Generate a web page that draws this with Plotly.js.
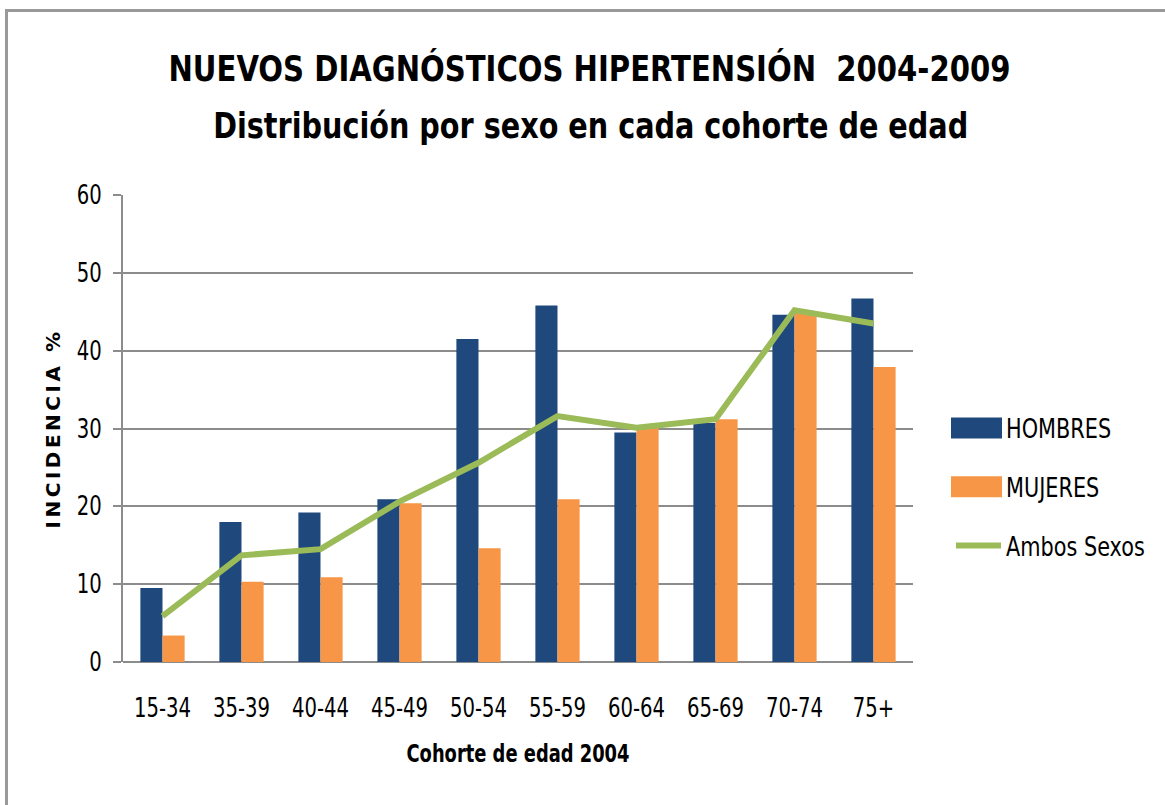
<!DOCTYPE html>
<html>
<head>
<meta charset="utf-8">
<script src="https://cdn.plot.ly/plotly-3.0.1.min.js"></script>
<style>
  html, body { margin: 0; padding: 0; background: #fff; }
  #wrap { position: relative; width: 1165px; height: 805px; overflow: hidden; background: #fff; }
  #frame { position: absolute; left: 5px; top: 9px; width: 1200px; height: 900px; border: 3px solid #999; box-sizing: border-box; pointer-events: none; }
  #chart { position: absolute; left: 0; top: 0; width: 1165px; height: 805px; }
  .ytitle { letter-spacing: 3.5px; }
</style>
</head>
<body>
<div id="wrap">
  <div id="chart"></div>
  <div id="frame"></div>
</div>
<script>
const categories = ["15-34", "35-39", "40-44", "45-49", "50-54", "55-59", "60-64", "65-69", "70-74", "75+"];
const hombres = [9.5, 18.0, 19.2, 20.9, 41.5, 45.8, 29.5, 30.7, 44.6, 46.7];
const mujeres = [3.4, 10.3, 10.9, 20.4, 14.6, 20.9, 30.1, 31.2, 45.1, 37.9];
const ambos = [5.9, 13.7, 14.5, 20.6, 25.6, 31.6, 30.1, 31.2, 45.2, 43.5];
const yTicks = [0, 10, 20, 30, 40, 50, 60];
const titleLine1 = "NUEVOS DIAGNÓSTICOS HIPERTENSIÓN\u00a0\u00a02004-2009";
const titleLine2 = "Distribución por sexo en cada cohorte de edad";

const narrow = "DejaVu Sans Condensed, Liberation Sans Narrow, sans-serif";

const traces = [
  { type: "bar", name: "HOMBRES", x: categories, y: hombres, marker: { color: "#1F497D" }, legendgroup: "a" },
  { type: "bar", name: "MUJERES", x: categories, y: mujeres, marker: { color: "#F79646" }, legendgroup: "b" },
  { type: "scatter", mode: "lines", name: "Ambos Sexos", x: categories, y: ambos, line: { color: "#9BBB59", width: 6 }, legendgroup: "c" }
];

const layout = {
  width: 1165, height: 805,
  margin: { l: 123, r: 252, t: 195, b: 143, autoexpand: false },
  paper_bgcolor: "rgba(0,0,0,0)", plot_bgcolor: "#fff",
  barmode: "group", bargap: 0.44, bargroupgap: 0,
  font: { family: narrow, color: "#000", size: 24 },
  title: {
    text: titleLine1,
    font: { family: narrow, size: 35, weight: 700, color: "#000" },
    xref: "container", x: 0.506, xanchor: "center",
    yref: "container", y: 1 - 81 / 805, yanchor: "bottom"
  },
  annotations: [{
    text: titleLine2, showarrow: false,
    font: { family: narrow, size: 35, weight: 700, color: "#000" },
    xref: "paper", x: (590 - 123) / 790, xanchor: "center",
    yref: "paper", y: (662 - 126) / 467, yanchor: "middle"
  }],
  xaxis: {
    type: "category",
    showgrid: false, showline: false, zeroline: false,
    ticks: "", tickfont: { family: narrow, size: 26 },
    ticklabelstandoff: 28,
    title: { text: "Cohorte de edad 2004", font: { family: narrow, size: 25, weight: 700 }, standoff: 22 }
  },
  yaxis: {
    range: [0, 60], tickvals: yTicks, ticktext: yTicks.map(String),
    showgrid: true, gridcolor: "#8c8c8c", gridwidth: 2,
    showline: true, linecolor: "#8c8c8c", linewidth: 2,
    zeroline: true, zerolinecolor: "#8c8c8c", zerolinewidth: 2,
    ticks: "outside", ticklen: 8, tickcolor: "#8c8c8c", tickwidth: 2,
    tickfont: { family: narrow, size: 26 },
    ticklabelstandoff: 6,
    title: { text: "INCIDENCIA %", font: { family: "DejaVu Sans, sans-serif", size: 20, weight: 700 }, standoff: 6 }
  },
  showlegend: true,
  legend: {
    x: (951 - 123) / 790, xanchor: "left", y: (662 - 487) / 467, yanchor: "middle",
    font: { family: narrow, size: 26, color: "#000" },
    traceorder: "grouped", tracegroupgap: 22,
    itemwidth: 45,
    bgcolor: "rgba(0,0,0,0)"
  }
};

function squeezeText(el, target) {
  const L = el.getComputedTextLength();
  if (L > 0) {
    el.setAttribute("textLength", target(L));
    el.setAttribute("lengthAdjust", "spacingAndGlyphs");
  }
}

Plotly.newPlot("chart", traces, layout, { displayModeBar: false, staticPlot: true }).then(function (gd) {
  const root = gd;
  root.querySelectorAll(".xtick text, .ytick text").forEach(t => squeezeText(t, L => L * 0.84));
  root.querySelectorAll(".legendtext").forEach(t => squeezeText(t, L => L * 0.89));
  root.querySelectorAll(".gtitle").forEach(t => squeezeText(t, () => 842));
  root.querySelectorAll(".annotation-text").forEach(t => squeezeText(t, () => 755));
  root.querySelectorAll(".xtitle").forEach(t => squeezeText(t, () => 223));
  // no clipping of the legend box
  root.querySelectorAll(".legend [clip-path], .legend[clip-path]").forEach(e => e.removeAttribute("clip-path"));
  // wider legend swatches like the original, placed just left of each label
  root.querySelectorAll(".legend .traces").forEach(function (g, i) {
    const txt = g.querySelector(".legendtext");
    if (!txt) return;
    const tx = txt.getCTM().e + parseFloat(txt.getAttribute("x") || 0);
    g.querySelectorAll(".legendpoints path").forEach(function (p) {
      const px = p.getCTM().e;
      const left = tx - 55 - px, right = tx - 4 - px;
      if (i < 2) {
        p.setAttribute("d", "M" + left + ",-10.5H" + right + "V10.5H" + left + "Z");
      } else {
        p.setAttribute("d", "M" + (left + 2) + ",0H" + (right - 2));
        p.style.strokeLinecap = "round";
      }
    });
  });
});
</script>
</body>
</html>
